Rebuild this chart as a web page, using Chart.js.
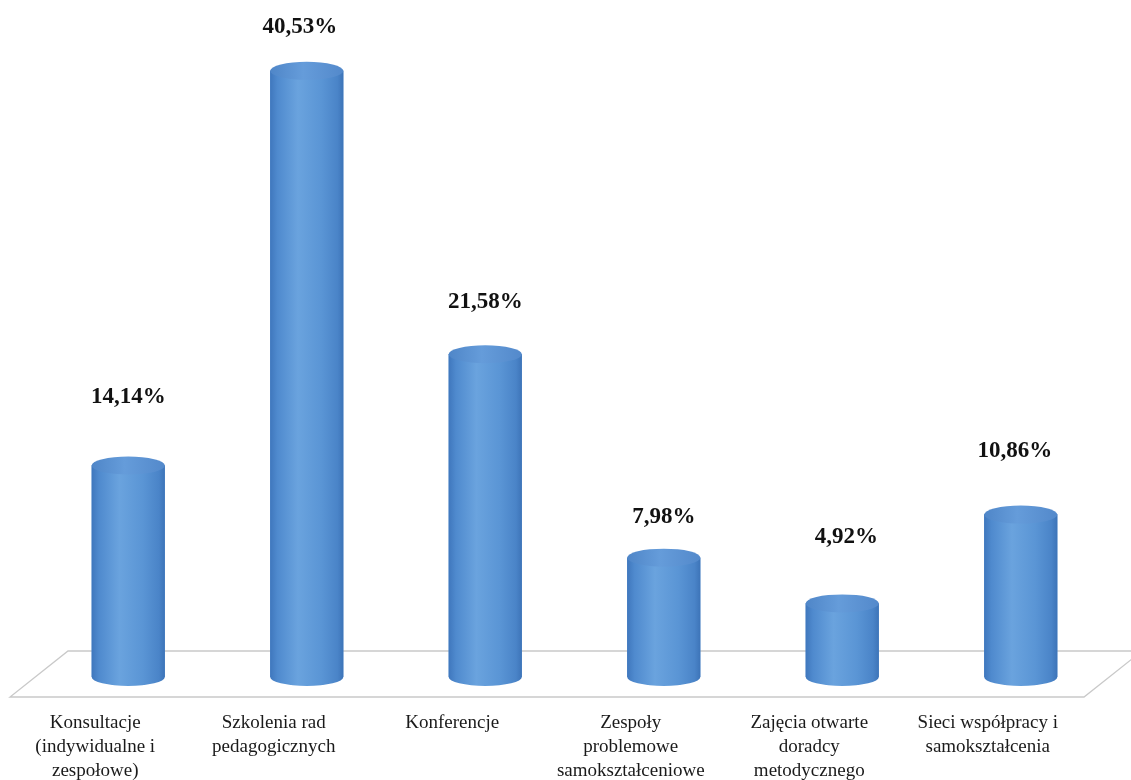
<!DOCTYPE html>
<html>
<head>
<meta charset="utf-8">
<script src="https://cdn.jsdelivr.net/npm/chart.js@4/dist/chart.umd.min.js"></script>
<style>
html,body{margin:0;padding:0;background:#fff;}
#wrap{width:1131px;height:780px;position:relative;}
</style>
</head>
<body>
<div id="wrap"><canvas id="c" width="1131" height="780"></canvas></div>
<script>
// ---- data ----
const categories = [
  ["Konsultacje", "(indywidualne i", "zespołowe)"],
  ["Szkolenia rad", "pedagogicznych"],
  ["Konferencje"],
  ["Zespoły", "problemowe", "samokształceniowe"],
  ["Zajęcia otwarte", "doradcy", "metodycznego"],
  ["Sieci współpracy i", "samokształcenia"]
];
const values = [14.14, 40.53, 21.58, 7.98, 4.92, 10.86];
const valueLabels = ["14,14%", "40,53%", "21,58%", "7,98%", "4,92%", "10,86%"];

// ---- styling (label placement relative to bar tops) ----
const labelDy = [68, 44, 52, 41, 66, 64];
const labelDx = [0, -7, 0, 0, 4, -6];

const RY = 9;

function bodyGradient(ctx, x0, x1) {
  const g = ctx.createLinearGradient(x0, 0, x1, 0);
  g.addColorStop(0, '#3f77bd');
  g.addColorStop(0.1, '#4f8ace');
  g.addColorStop(0.38, '#6aa3de');
  g.addColorStop(0.7, '#5a95d5');
  g.addColorStop(0.92, '#4a84c8');
  g.addColorStop(1, '#3d74b8');
  return g;
}

const floorPlugin = {
  id: 'floor',
  beforeDatasetsDraw(chart) {
    const ctx = chart.ctx;
    const a = chart.chartArea;
    const base = chart.scales.y.getPixelForValue(0);
    const backY = base - 26, frontY = base + 20;
    const bl = a.left + 29, fl = a.left - 29;
    const fr = a.right - 26, br = a.right + 32;
    ctx.save();
    ctx.beginPath();
    ctx.moveTo(bl, backY);
    ctx.lineTo(br, backY);
    ctx.lineTo(fr, frontY);
    ctx.lineTo(fl, frontY);
    ctx.closePath();
    ctx.fillStyle = '#ffffff';
    ctx.fill();
    ctx.strokeStyle = '#c9c9c9';
    ctx.lineWidth = 1.3;
    ctx.stroke();
    ctx.restore();
  }
};

const cylinderPlugin = {
  id: 'cylinder',
  afterDatasetsDraw(chart) {
    const ctx = chart.ctx;
    const meta = chart.getDatasetMeta(0);
    ctx.save();
    meta.data.forEach((bar, i) => {
      const x0 = bar.x - bar.width / 2, x1 = bar.x + bar.width / 2;
      const rx = bar.width / 2;
      const g = bodyGradient(ctx, x0, x1);
      // body with rounded bottom
      ctx.beginPath();
      ctx.moveTo(x0, bar.y);
      ctx.lineTo(x0, bar.base);
      ctx.ellipse(bar.x, bar.base, rx, RY, 0, Math.PI, 0, true);
      ctx.lineTo(x1, bar.y);
      ctx.closePath();
      ctx.fillStyle = g;
      ctx.fill();
      // top ellipse
      ctx.beginPath();
      ctx.ellipse(bar.x, bar.y, rx, RY, 0, 0, Math.PI * 2);
      const tg = ctx.createLinearGradient(x0, 0, x1, 0);
      tg.addColorStop(0, '#4f86c8');
      tg.addColorStop(0.45, '#659cda');
      tg.addColorStop(1, '#5389cb');
      ctx.fillStyle = tg;
      ctx.fill();
      // value label
      ctx.fillStyle = '#111111';
      ctx.font = 'bold 23px "Liberation Serif", "DejaVu Serif", serif';
      ctx.textAlign = 'center';
      ctx.textBaseline = 'middle';
      ctx.fillText(valueLabels[i], bar.x + labelDx[i], bar.y - labelDy[i]);
    });
    ctx.restore();
  }
};

new Chart(document.getElementById('c'), {
  type: 'bar',
  data: {
    labels: categories,
    datasets: [{
      data: values,
      backgroundColor: '#5690d2',
      borderWidth: 0,
      barPercentage: 0.41,
      categoryPercentage: 1.0
    }]
  },
  options: {
    responsive: false,
    animation: false,
    events: [],
    layout: { padding: { left: 39, right: 21, top: 4, bottom: 0 } },
    plugins: { legend: { display: false }, tooltip: { enabled: false } },
    scales: {
      y: {
        display: false,
        min: 0,
        max: 45
      },
      x: {
        grid: { display: false, drawTicks: false, tickLength: 0 },
        border: { display: false },
        ticks: {
          autoSkip: false,
          maxRotation: 0,
          minRotation: 0,
          padding: 34,
          labelOffset: -33,
          color: '#1a1a1a',
          font: { family: '"Liberation Serif", "DejaVu Serif", serif', size: 19, lineHeight: 1.26 }
        },
        afterFit(scale) { scale.height = 103; }
      }
    }
  },
  plugins: [floorPlugin, cylinderPlugin]
});
</script>
</body>
</html>
